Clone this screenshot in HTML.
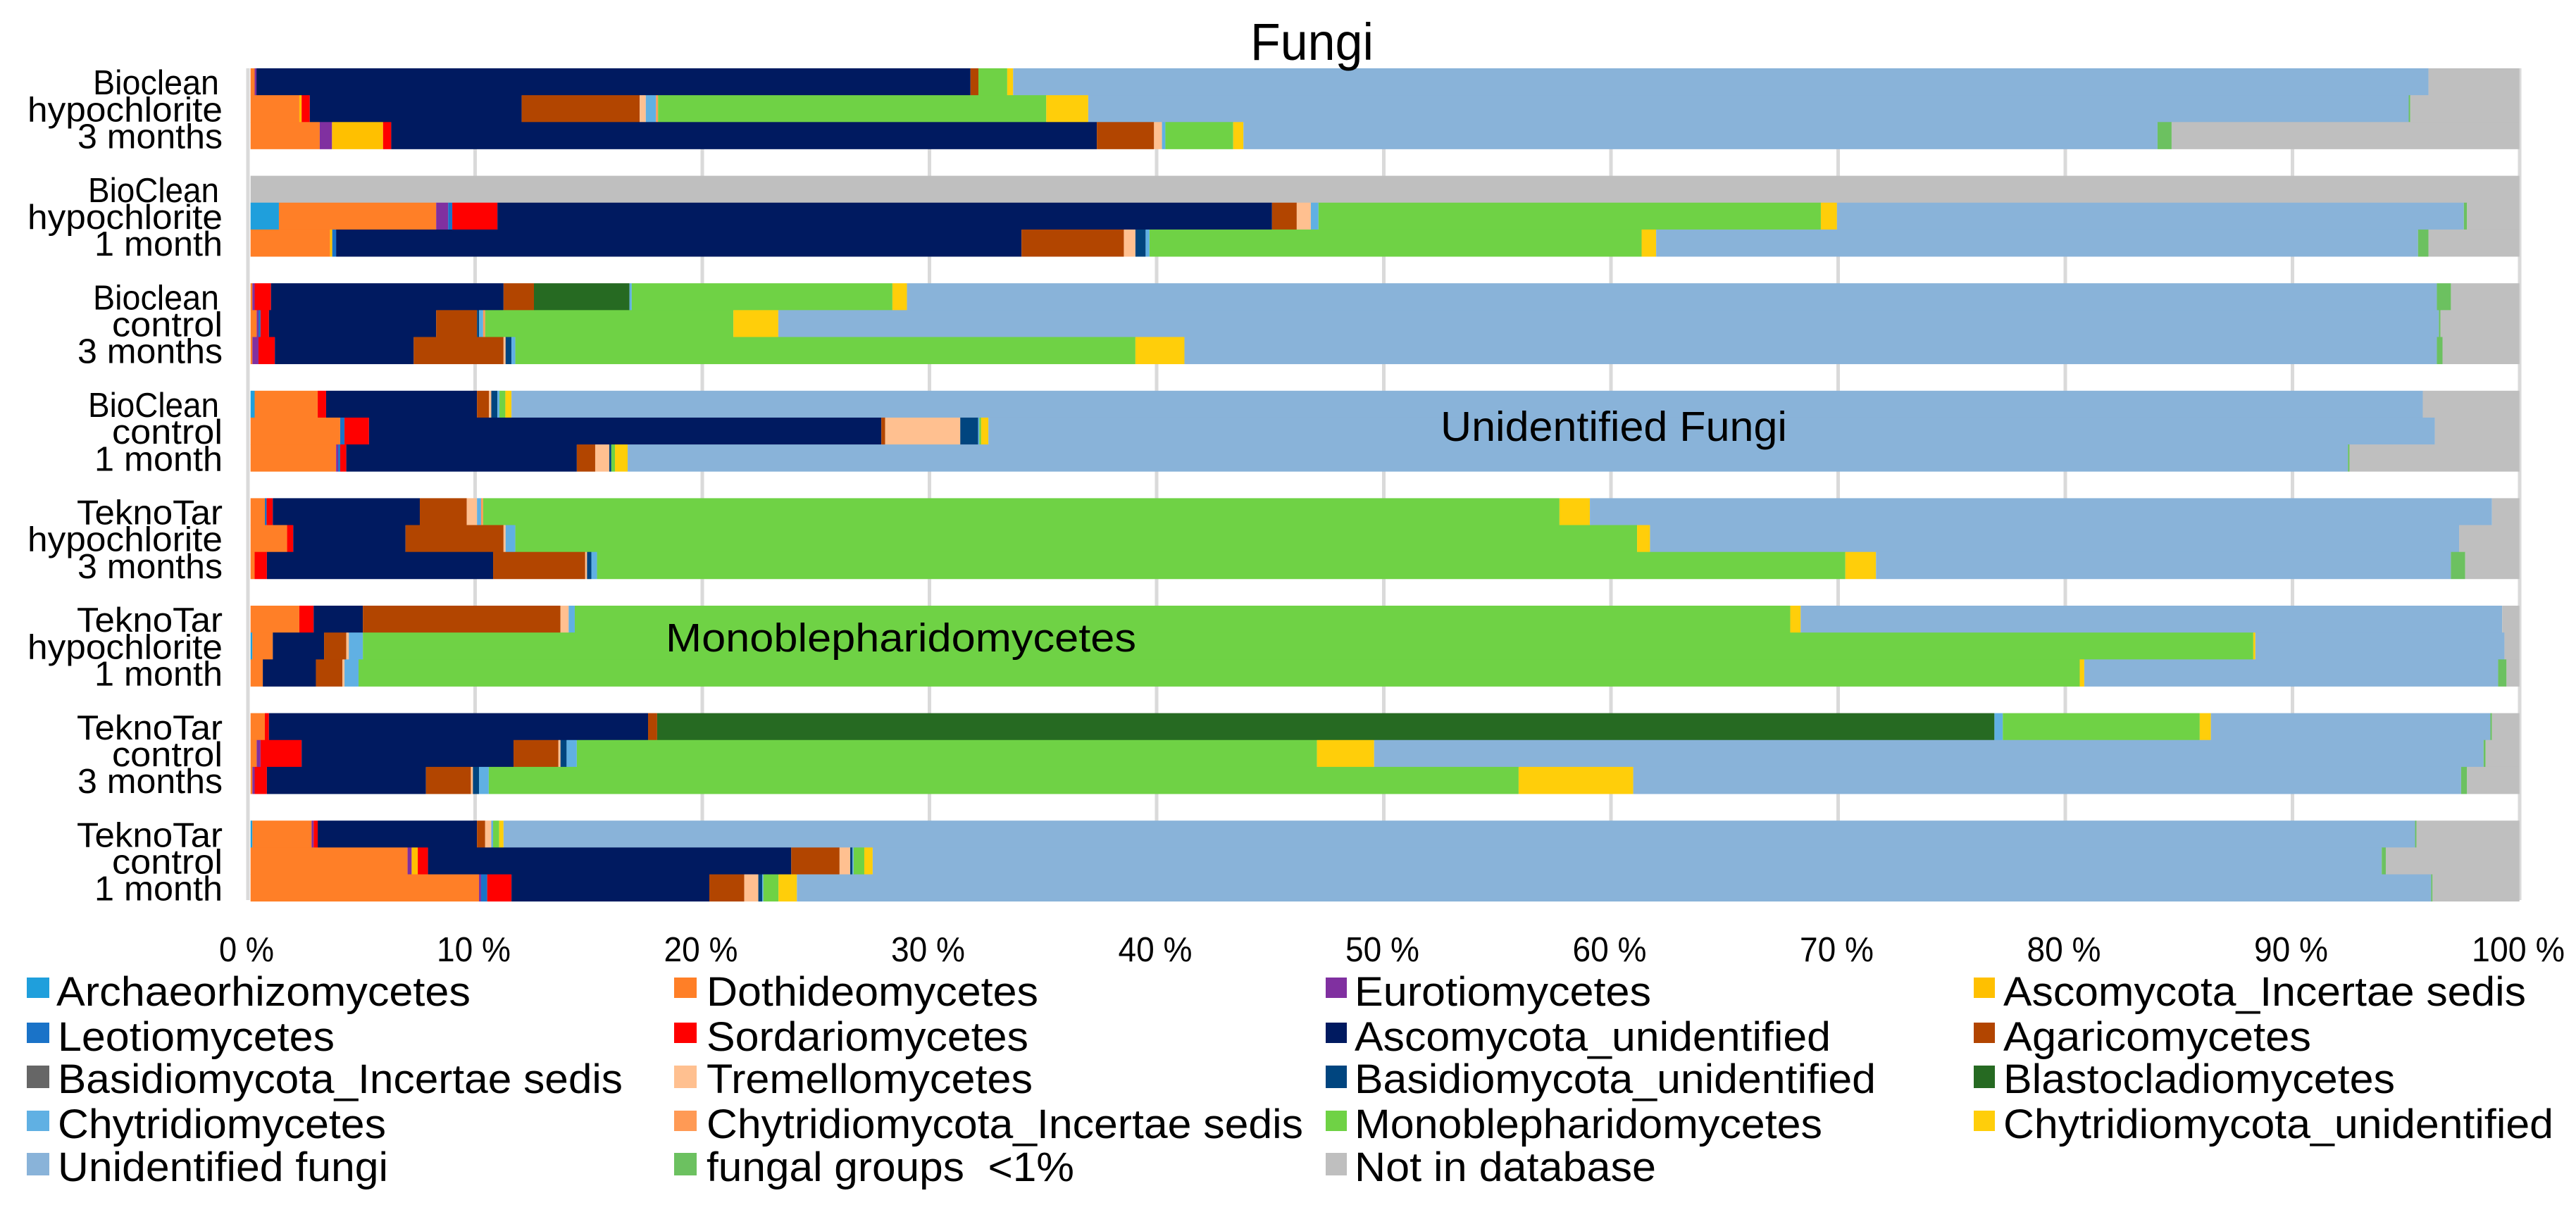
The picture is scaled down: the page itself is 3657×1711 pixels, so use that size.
<!DOCTYPE html>
<html lang="en">
<head>
<meta charset="utf-8">
<title>Fungi stacked bar chart</title>
<style>
html,body{margin:0;padding:0;background:#fff;}
svg{display:block;}
text{font-family:"Liberation Sans",sans-serif;fill:#000;}
</style>
</head>
<body>
<svg id="chart" xmlns="http://www.w3.org/2000/svg" width="3657" height="1711" viewBox="0 0 3657 1711">
<rect x="0" y="0" width="3657" height="1711" fill="#fff"/>
<g id="grid"></g>
<g id="bars"></g>
<g id="catLabels"></g>
<g id="xTicks"></g>
<text x="1775" y="85" font-size="74" textLength="175" lengthAdjust="spacingAndGlyphs">Fungi</text>
<text x="2045" y="626" font-size="59" textLength="492" lengthAdjust="spacingAndGlyphs">Unidentified Fungi</text>
<text x="945" y="925" font-size="57" textLength="668" lengthAdjust="spacingAndGlyphs">Monoblepharidomycetes</text>
<g font-size="58">
  <g><rect x="38" y="1388" width="32" height="29" fill="#1f9fdc"/><text x="80" y="1428" textLength="588" lengthAdjust="spacingAndGlyphs">Archaeorhizomycetes</text></g>
  <g><rect x="957" y="1388" width="32" height="29" fill="#ff7f27"/><text x="1003" y="1428" textLength="471" lengthAdjust="spacingAndGlyphs">Dothideomycetes</text></g>
  <g><rect x="1882" y="1388" width="30" height="29" fill="#8030a0"/><text x="1923" y="1428" textLength="421" lengthAdjust="spacingAndGlyphs">Eurotiomycetes</text></g>
  <g><rect x="2802" y="1388" width="30" height="29" fill="#ffc000"/><text x="2844" y="1428" textLength="742" lengthAdjust="spacingAndGlyphs">Ascomycota_Incertae sedis</text></g>
  <g><rect x="38" y="1452" width="32" height="29" fill="#1a73c8"/><text x="82" y="1492" textLength="393" lengthAdjust="spacingAndGlyphs">Leotiomycetes</text></g>
  <g><rect x="957" y="1452" width="32" height="29" fill="#ff0000"/><text x="1003" y="1492" textLength="457" lengthAdjust="spacingAndGlyphs">Sordariomycetes</text></g>
  <g><rect x="1882" y="1452" width="30" height="29" fill="#001a60"/><text x="1923" y="1492" textLength="676" lengthAdjust="spacingAndGlyphs">Ascomycota_unidentified</text></g>
  <g><rect x="2802" y="1452" width="30" height="29" fill="#b24500"/><text x="2844" y="1492" textLength="437" lengthAdjust="spacingAndGlyphs">Agaricomycetes</text></g>
  <g><rect x="38" y="1513" width="32" height="32" fill="#666666"/><text x="82" y="1552" textLength="802" lengthAdjust="spacingAndGlyphs">Basidiomycota_Incertae sedis</text></g>
  <g><rect x="957" y="1513" width="32" height="32" fill="#ffc090"/><text x="1003" y="1552" textLength="463" lengthAdjust="spacingAndGlyphs">Tremellomycetes</text></g>
  <g><rect x="1882" y="1513" width="30" height="32" fill="#00457f"/><text x="1923" y="1552" textLength="740" lengthAdjust="spacingAndGlyphs">Basidiomycota_unidentified</text></g>
  <g><rect x="2802" y="1513" width="30" height="32" fill="#266a22"/><text x="2844" y="1552" textLength="556" lengthAdjust="spacingAndGlyphs">Blastocladiomycetes</text></g>
  <g><rect x="38" y="1577" width="32" height="29" fill="#60b0e3"/><text x="82" y="1616" textLength="466" lengthAdjust="spacingAndGlyphs">Chytridiomycetes</text></g>
  <g><rect x="957" y="1577" width="32" height="29" fill="#ff9a55"/><text x="1003" y="1616" textLength="847" lengthAdjust="spacingAndGlyphs">Chytridiomycota_Incertae sedis</text></g>
  <g><rect x="1882" y="1577" width="30" height="29" fill="#6fd245"/><text x="1923" y="1616" textLength="664" lengthAdjust="spacingAndGlyphs">Monoblepharidomycetes</text></g>
  <g><rect x="2802" y="1577" width="30" height="29" fill="#ffce0a"/><text x="2844" y="1616" textLength="781" lengthAdjust="spacingAndGlyphs">Chytridiomycota_unidentified</text></g>
  <g><rect x="38" y="1637" width="32" height="32" fill="#89b3d9"/><text x="82" y="1677" textLength="469" lengthAdjust="spacingAndGlyphs">Unidentified fungi</text></g>
  <g><rect x="957" y="1637" width="32" height="32" fill="#6cc160"/><text x="1003" y="1677" textLength="522" lengthAdjust="spacingAndGlyphs" xml:space="preserve">fungal groups  &lt;1%</text></g>
  <g><rect x="1882" y="1637" width="30" height="32" fill="#bfbfbf"/><text x="1923" y="1677" textLength="428" lengthAdjust="spacingAndGlyphs">Not in database</text></g>
</g>
</svg>
<script>
const categoryLines = [
  "Bioclean","hypochlorite","3 months",
  "BioClean","hypochlorite","1 month",
  "Bioclean","control","3 months",
  "BioClean","control","1 month",
  "TeknoTar","hypochlorite","3 months",
  "TeknoTar","hypochlorite","1 month",
  "TeknoTar","control","3 months",
  "TeknoTar","control","1 month"
];
const tickValues = [0,10,20,30,40,50,60,70,80,90,100];
const tickLabels = ["0 %","10 %","20 %","30 %","40 %","50 %","60 %","70 %","80 %","90 %","100 %"];

const archaeorhizomycetes = [0,0,0, 0,1.25,0, 0,0,0, .18,0,0, 0,0,0, 0,.08,0, 0,0,0, .08,0,0];
const dothideomycetes = [.18,2.15,3.05, 0,6.93,3.50, .08,.27,.08, 2.78,3.95,3.77, .63,1.61,.18, 2.15,.90,.54, .63,.27,.08, 2.61,6.92,10.07];
const eurotiomycetes = [.08,0,.54, 0,.53,0, .10,.08,.27, 0,0,.09, 0,0,0, 0,0,0, 0,.17,.10, .09,.18,.09];
const ascomycotaIncertae = [0,.10,2.25, 0,0,.10, 0,0,0, 0,0,0, 0,0,0, 0,0,0, 0,0,0, 0,.27,0];
const leotiomycetes = [0,0,0, 0,.18,.17, 0,.09,0, 0,.19,.09, .08,0,0, 0,0,0, 0,0,0, 0,0,.27];
const sordariomycetes = [0,.36,.36, 0,1.99,0, .72,.37,.72, .37,1.08,.27, .27,.27,.54, .63,0,0, .18,1.81,.54, .18,.45,1.07];
const ascomycotaUnidentified = [31.47,9.34,31.10, 0,34.14,30.21, 10.25,7.37,6.12, 6.65,22.58,10.16, 6.48,4.95,9.97, 2.17,2.26,2.34, 16.71,9.34,7.01, 7.02,16.01,8.72];
const agaricomycetes = [.35,5.20,2.52, 0,1.09,4.51, 1.34,1.80,3.96, .53,.17,.81, 2.07,4.32,4.06, 8.71,.98,1.17, .40,1.98,1.98, .36,2.13,1.54];
const basidiomycotaIncertae = [0,0,0, 0,0,0, 0,0,0, 0,0,0, 0,0,0, 0,0,0, 0,0,0, 0,0,0];
const tremellomycetes = [0,.27,.35, 0,.62,.51, 0,0,.09, .10,3.31,.62, .45,.09,.08, .36,.11,.09, 0,.09,.09, .27,.47,.62];
const basidiomycotaUnidentified = [0,0,0, 0,0,.45, 0,.09,.26, .27,.79,.09, 0,0,.19, 0,0,0, 0,.27,.27, 0,.10,.17];
const blastocladiomycetes = [0,0,0, 0,0,0, 4.21,0,0, 0,0,0, 0,0,0, 0,0,0, 58.94,0,0, 0,0,0];
const chytridiomycetes = [0,.45,.15, 0,.34,.17, .10,.18,.17, .09,.05,0, .18,.43,.25, .27,.62,.62, .37,.45,.43, .08,.05,.05];
const chytridiomycotaIncertae = [0,.09,0, 0,0,0, 0,.09,0, 0,0,0, .09,0,0, 0,0,0, 0,0,0, 0,0,0];
const monoblepharidomycetes = [1.27,17.11,2.99, 0,22.14,21.69, 11.49,10.94,27.33, .26,.08,.16, 47.44,49.44,55.02, 53.57,83.32,75.86, 8.68,32.62,45.39, .27,.47,.67];
const chytridiomycotaUnidentified = [.26,1.85,.45, 0,.71,.64, .64,1.98,2.16, .27,.32,.56, 1.34,.57,1.35, .46,.09,.20, .49,2.52,5.05, .19,.37,.81];
const unidentifiedFungi = [62.38,58.20,40.29, 0,27.63,33.58, 67.43,73.19,55.20, 84.24,63.75,75.82, 39.76,35.66,25.34, 30.92,10.98,18.24, 12.32,48.90,36.49, 84.25,66.51,72.03];
const fungalGroupsUnder1 = [0,.07,.62, 0,.14,.46, .62,.07,.25, 0,0,.07, 0,0,.63, 0,0,.37, .07,.09,.26, .06,.18,.06];
const notInDatabase = [4.01,4.81,15.33, 100,2.31,4.01, 3.02,3.48,3.39, 4.26,3.73,7.49, 1.21,2.66,2.39, .76,.66,.57, 1.21,1.49,2.31, 4.54,5.89,3.83];

const stackOrder = [
  archaeorhizomycetes, dothideomycetes, eurotiomycetes, ascomycotaIncertae, leotiomycetes,
  sordariomycetes, ascomycotaUnidentified, agaricomycetes, basidiomycotaIncertae, tremellomycetes,
  basidiomycotaUnidentified, blastocladiomycetes, chytridiomycetes, chytridiomycotaIncertae,
  monoblepharidomycetes, chytridiomycotaUnidentified, unidentifiedFungi, fungalGroupsUnder1, notInDatabase
];
const stackNames = [
  "archaeorhizomycetes","dothideomycetes","eurotiomycetes","ascomycota-incertae-sedis","leotiomycetes",
  "sordariomycetes","ascomycota-unidentified","agaricomycetes","basidiomycota-incertae-sedis","tremellomycetes",
  "basidiomycota-unidentified","blastocladiomycetes","chytridiomycetes","chytridiomycota-incertae-sedis",
  "monoblepharidomycetes","chytridiomycota-unidentified","unidentified-fungi","fungal-groups-under-1-percent","not-in-database"
];
const stackColors = [
  "#1f9fdc","#ff7f27","#8030a0","#ffc000","#1a73c8","#ff0000","#001a60","#b24500","#666666","#ffc090",
  "#00457f","#266a22","#60b0e3","#ff9a55","#6fd245","#ffce0a","#89b3d9","#6cc160","#bfbfbf"
];

const NS = "http://www.w3.org/2000/svg";
const labelFit = {"Bioclean":179,"BioClean":186,"hypochlorite":277,"3 months":206,"1 month":182,"control":157,"TeknoTar":207};
const slotHeight = 38.15;
function xScale(v){ return 355.7 + 32.21 * v; }
function gridX(v){ return 352 + 32.25 * v; }
function rowY(i){ return 97 + slotHeight * (i + Math.floor(i / 3)); }

const gridGroup = document.getElementById("grid");
const tickGroup = document.getElementById("xTicks");
tickValues.forEach(function(t, k){
  const line = document.createElementNS(NS, "rect");
  
  
  line.setAttribute("x", gridX(t) - 2.5);
  line.setAttribute("y", 97);
  line.setAttribute("width", 5);
  line.setAttribute("height", 1181);
  line.setAttribute("fill", "#dadada");
  gridGroup.appendChild(line);

  const label = document.createElementNS(NS, "text");
  
  
  const str = tickLabels[k];
  const w = 78 + 27 * (str.length - 3);
  label.setAttribute("x", gridX(t) - 2 - w / 2);
  label.setAttribute("y", 1365);
  label.setAttribute("font-size", 49);
  label.setAttribute("textLength", w);
  label.setAttribute("lengthAdjust", "spacingAndGlyphs");
  label.textContent = str;
  tickGroup.appendChild(label);
});

const barGroup = document.getElementById("bars");
const catGroup = document.getElementById("catLabels");
categoryLines.forEach(function(name, i){
  let cum = 0;
  const top = rowY(i);
  stackOrder.forEach(function(values, s){
    const v = values[i];
    if (v > 0) {
      const seg = document.createElementNS(NS, "rect");
      
      
      seg.setAttribute("x", xScale(cum));
      seg.setAttribute("y", top);
      seg.setAttribute("width", xScale(cum + v) - xScale(cum));
      seg.setAttribute("height", slotHeight + 0.4);
      seg.setAttribute("fill", stackColors[s]);
      barGroup.appendChild(seg);
      cum += v;
    }
  });
  const text = document.createElementNS(NS, "text");
  
  
  const w = labelFit[name];
  const right = (name === "Bioclean" || name === "BioClean") ? 311 : 316;
  text.setAttribute("x", right - w);
  text.setAttribute("y", top + slotHeight - 1);
  text.setAttribute("font-size", 49);
  text.setAttribute("textLength", w);
  text.setAttribute("lengthAdjust", "spacingAndGlyphs");
  text.textContent = name;
  catGroup.appendChild(text);
});
</script>
</body>
</html>
